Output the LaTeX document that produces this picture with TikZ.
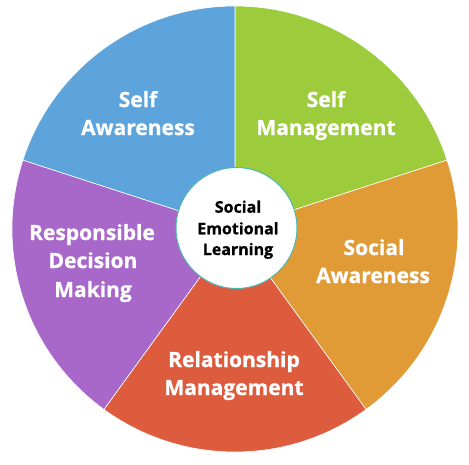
\documentclass[tikz,border=0pt]{standalone}
\usepackage{fontspec}
\setmainfont[BoldFeatures={FakeBold=0.8}]{Open Sans}
\definecolor{cBlue}{HTML}{5DA4DD}
\definecolor{cGreen}{HTML}{9CCB3B}
\definecolor{cOrange}{HTML}{E19B36}
\definecolor{cRed}{HTML}{DE5C3E}
\definecolor{cPurple}{HTML}{A868C9}
\definecolor{cTeal}{HTML}{4DB8B0}
\begin{document}
\begin{tikzpicture}[x=1pt,y=-1pt,
  sector/.style={draw=white,line width=0.6pt},
  lbl/.style={text=white,font=\fontsize{21}{28}\selectfont\bfseries,anchor=base,inner sep=0pt},
  clbl/.style={text=black,font=\fontsize{16}{21}\selectfont\bfseries,anchor=base,inner sep=0pt}]
\useasboundingbox (0,0) rectangle (469,464);
\coordinate (O) at (235,229);
\def\R{223}
\fill[cGreen,sector] (O) -- +(-90:\R) arc[start angle=-90,end angle=-18,radius=\R] -- cycle;
\fill[cOrange,sector] (O) -- +(-18:\R) arc[start angle=-18,end angle=54,radius=\R] -- cycle;
\fill[cRed,sector] (O) -- +(54:\R) arc[start angle=54,end angle=126,radius=\R] -- cycle;
\fill[cPurple,sector] (O) -- +(126:\R) arc[start angle=126,end angle=198,radius=\R] -- cycle;
\fill[cBlue,sector] (O) -- +(198:\R) arc[start angle=198,end angle=270,radius=\R] -- cycle;
\draw[cTeal,fill=white,line width=1pt] (236.5,228) circle[radius=60.5];
\node[clbl] (c1) at (238,212.7) {Social};
\node[clbl] (c2) at (238,234.3) {Emotional};
\node[clbl] (c3) at (238,255) {Learning};
\node[lbl] (sa1) at (138,107) {Self};
\node[lbl] (sa2) at (138,135) {Awareness};
\node[lbl] (sm1) at (326,107) {Self};
\node[lbl] (sm2) at (326,135) {Management};
\node[lbl] (so1) at (374,255) {Social};
\node[lbl] (so2) at (373,283) {Awareness};
\node[lbl] (rm1) at (234,367) {Relationship};
\node[lbl] (rm2) at (234,395) {Management};
\node[lbl] (rd1) at (92,240) {Responsible};
\node[lbl] (rd2) at (93,268) {Decision};
\node[lbl] (rd3) at (93,297) {Making};
\end{tikzpicture}
\end{document}
